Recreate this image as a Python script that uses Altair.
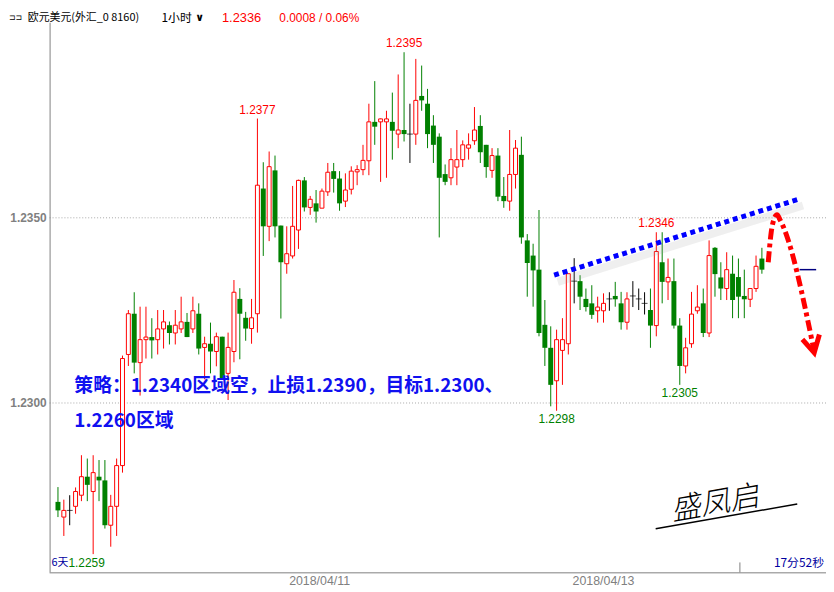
import altair as alt
import pandas as pd

# ---------------- data (EUR/USD 1h candles) ----------------
opens = [1.22733, 1.22692, 1.22710, 1.22721, 1.22751, 1.22801, 1.22761, 1.22801, 1.22791, 1.22670,
         1.22721, 1.22831, 1.23131, 1.23241, 1.23109, 1.23171, 1.23178, 1.23171, 1.23200, 1.23210,
         1.23189, 1.23200, 1.23219, 1.23200, 1.23241, 1.23150, 1.23160, 1.23139, 1.23179, 1.23080,
         1.23139, 1.23281, 1.23230, 1.23201, 1.23241, 1.23579, 1.23477, 1.23628, 1.23479, 1.23376,
         1.23397, 1.23467, 1.23601, 1.23528, 1.23539, 1.23526, 1.23570, 1.23626, 1.23606, 1.23545,
         1.23577, 1.23624, 1.23630, 1.23654, 1.23759, 1.23759, 1.23759, 1.23759, 1.23726, 1.23737,
         1.23726, 1.23726, 1.23829, 1.23808, 1.23749, 1.23719, 1.23618, 1.23608, 1.23637, 1.23657,
         1.23688, 1.23708, 1.23748, 1.23697, 1.23628, 1.23668, 1.23559, 1.23545, 1.23617, 1.23670,
         1.23439, 1.23398, 1.23360, 1.23211, 1.23149, 1.23060, 1.23142, 1.23160, 1.23329, 1.23329,
         1.23281, 1.23269, 1.23249, 1.23249, 1.23281, 1.23289, 1.23269, 1.23218, 1.23289, 1.23281,
         1.23269, 1.23251, 1.23209, 1.23380, 1.23327, 1.23329, 1.23209, 1.23100, 1.23160, 1.23249,
         1.23269, 1.23189, 1.23419, 1.23339, 1.23309, 1.23349, 1.23340, 1.23289, 1.23280, 1.23309,
         1.23390]
highs = [1.22773, 1.22739, 1.22751, 1.22772, 1.22859, 1.22850, 1.22859, 1.22846, 1.22846, 1.22752,
         1.22850, 1.23128, 1.23251, 1.23299, 1.23260, 1.23260, 1.23229, 1.23251, 1.23251, 1.23220,
         1.23251, 1.23287, 1.23243, 1.23287, 1.23269, 1.23179, 1.23217, 1.23190, 1.23179, 1.23190,
         1.23332, 1.23310, 1.23246, 1.23281, 1.23768, 1.23650, 1.23679, 1.23668, 1.23479, 1.23477,
         1.23586, 1.23603, 1.23610, 1.23559, 1.23575, 1.23579, 1.23648, 1.23648, 1.23626, 1.23620,
         1.23639, 1.23642, 1.23697, 1.23808, 1.23869, 1.23768, 1.23789, 1.23838, 1.23887, 1.23947,
         1.23808, 1.23929, 1.23911, 1.23848, 1.23777, 1.23728, 1.23644, 1.23688, 1.23737, 1.23709,
         1.23728, 1.23799, 1.23777, 1.23697, 1.23688, 1.23688, 1.23610, 1.23737, 1.23710, 1.23719,
         1.23456, 1.23430, 1.23521, 1.23278, 1.23207, 1.23198, 1.23229, 1.23349, 1.23391, 1.23345,
         1.23309, 1.23318, 1.23287, 1.23296, 1.23299, 1.23327, 1.23300, 1.23299, 1.23329, 1.23309,
         1.23299, 1.23309, 1.23461, 1.23461, 1.23390, 1.23390, 1.23229, 1.23176, 1.23300, 1.23318,
         1.23309, 1.23439, 1.23421, 1.23380, 1.23407, 1.23398, 1.23390, 1.23360, 1.23309, 1.23398,
         1.23419]
lows = [1.22692, 1.22641, 1.22670, 1.22701, 1.22735, 1.22735, 1.22592, 1.22735, 1.22661, 1.22612,
        1.22641, 1.22812, 1.23100, 1.23080, 1.23020, 1.23120, 1.23120, 1.23131, 1.23147, 1.23158,
        1.23158, 1.23189, 1.23178, 1.23189, 1.23131, 1.23064, 1.23080, 1.23099, 1.23064, 1.23008,
        1.23110, 1.23118, 1.23168, 1.23160, 1.23190, 1.23397, 1.23437, 1.23447, 1.23228, 1.23349,
        1.23390, 1.23416, 1.23517, 1.23508, 1.23487, 1.23526, 1.23559, 1.23568, 1.23519, 1.23529,
        1.23563, 1.23588, 1.23615, 1.23615, 1.23697, 1.23597, 1.23608, 1.23657, 1.23688, 1.23706,
        1.23648, 1.23697, 1.23789, 1.23688, 1.23648, 1.23447, 1.23588, 1.23588, 1.23588, 1.23637,
        1.23657, 1.23697, 1.23648, 1.23608, 1.23608, 1.23545, 1.23527, 1.23519, 1.23579, 1.23430,
        1.23287, 1.23260, 1.23180, 1.23100, 1.22991, 1.22979, 1.23049, 1.23131, 1.23269, 1.23251,
        1.23247, 1.23227, 1.23217, 1.23217, 1.23249, 1.23260, 1.23198, 1.23198, 1.23259, 1.23251,
        1.23239, 1.23149, 1.23180, 1.23269, 1.23278, 1.23201, 1.23049, 1.23080, 1.23149, 1.23241,
        1.23178, 1.23178, 1.23287, 1.23278, 1.23278, 1.23229, 1.23229, 1.23229, 1.23259, 1.23300,
        1.23349]
closes = [1.22710, 1.22710, 1.22710, 1.22761, 1.22801, 1.22779, 1.22812, 1.22791, 1.22670, 1.22721,
          1.22831, 1.23120, 1.23241, 1.23109, 1.23171, 1.23178, 1.23169, 1.23200, 1.23219, 1.23189,
          1.23210, 1.23219, 1.23178, 1.23249, 1.23147, 1.23160, 1.23139, 1.23179, 1.23067, 1.23150,
          1.23299, 1.23241, 1.23201, 1.23230, 1.23588, 1.23477, 1.23638, 1.23477, 1.23380, 1.23403,
          1.23477, 1.23601, 1.23528, 1.23550, 1.23517, 1.23572, 1.23623, 1.23605, 1.23539, 1.23575,
          1.23626, 1.23630, 1.23655, 1.23759, 1.23746, 1.23767, 1.23767, 1.23735, 1.23737, 1.23726,
          1.23726, 1.23817, 1.23817, 1.23726, 1.23697, 1.23608, 1.23597, 1.23657, 1.23657, 1.23697,
          1.23697, 1.23737, 1.23677, 1.23637, 1.23668, 1.23557, 1.23545, 1.23617, 1.23688, 1.23447,
          1.23378, 1.23358, 1.23189, 1.23149, 1.23049, 1.23171, 1.23171, 1.23349, 1.23329, 1.23287,
          1.23259, 1.23238, 1.23259, 1.23269, 1.23281, 1.23280, 1.23218, 1.23281, 1.23289, 1.23281,
          1.23269, 1.23209, 1.23409, 1.23327, 1.23339, 1.23209, 1.23100, 1.23149, 1.23240, 1.23259,
          1.23189, 1.23398, 1.23348, 1.23309, 1.23360, 1.23278, 1.23287, 1.23280, 1.23309, 1.23369,
          1.23360]

grid_values = [1.2300, 1.2350]

high_label_idx = [34, 59, 102]
high_label_text = ["1.2377", "1.2395", "1.2346"]
low_label_idx = [85, 106]
low_label_text = ["1.2298", "1.2305"]

date_idx = [44.6, 93.0]
date_text = ["2018/04/11", "2018/04/13"]

trend_idx = [84.58, 126.42]
trend_price = [1.23345, 1.23551]
shadow_idx = [85.2, 127.0]
shadow_price = [1.23327, 1.23533]

arrow_idx = [121.08, 121.58, 122.08, 122.58, 123.08, 128.92]
arrow_price = [1.23380, 1.23460, 1.23497, 1.23508, 1.23495, 1.23139]
head_idx = [126.9, 128.92, 129.8]
head_price = [1.23172, 1.23136, 1.23185]

last_price = 1.2336
last_idx = [126.42, 129.25]
marker_idx = 116.25

# ---------------- frame ----------------
W, H = 784, 555
xs = alt.Scale(domain=[-0.5833, 130.0833], nice=False, zero=False)
ys = alt.Scale(domain=[1.225428, 1.240267], nice=False, zero=False)

df = pd.DataFrame({"i": list(range(len(opens))), "open": opens, "high": highs,
                   "low": lows, "close": closes})
df["kind"] = ["up" if c > o else ("down" if c < o else "doji") for o, c in zip(opens, closes)]
df["top"] = df[["open", "close"]].max(axis=1)
df["bot"] = df[["open", "close"]].min(axis=1)

kind_scale = alt.Scale(domain=["up", "down", "doji"], range=["#ff0000", "#008000", "#000000"])
X = alt.X("i:Q", scale=xs, axis=None)
dummy = pd.DataFrame({"a": [0]})

GRAY = "#808080"

grid = alt.Chart(pd.DataFrame({"v": grid_values})).mark_rule(
    strokeDash=[1, 2], color="#a8a8a8", strokeWidth=1).encode(
    y=alt.Y("v:Q", scale=ys, axis=None), x=alt.value(0), x2=alt.value(W))
ylabels = alt.Chart(pd.DataFrame({"v": grid_values})).mark_text(
    align="right", baseline="middle", dx=-3, font="Liberation Sans", fontSize=12,
    fontWeight="bold", color=GRAY).encode(
    y=alt.Y("v:Q", scale=ys, axis=None), x=alt.value(0), text=alt.Text("v:Q", format=".4f"))
yaxis = alt.Chart(dummy).mark_rule(color=GRAY, strokeWidth=1).encode(
    x=alt.value(0.5), y=alt.value(0), y2=alt.value(H))
xaxis = alt.Chart(dummy).mark_rule(color=GRAY, strokeWidth=1).encode(
    x=alt.value(0), x2=alt.value(W), y=alt.value(H + 0.5))
marker = alt.Chart(pd.DataFrame({"i": [marker_idx]})).mark_rule(color=GRAY).encode(
    x=X, y=alt.value(H - 10), y2=alt.value(H))

wicks = alt.Chart(df).mark_rule(strokeWidth=1).encode(
    x=X, y=alt.Y("low:Q", scale=ys, axis=None), y2="high:Q",
    color=alt.Color("kind:N", scale=kind_scale, legend=None))
down_bodies = alt.Chart(df).transform_filter("datum.kind == 'down'").mark_bar(
    size=5, fill="#008000", strokeWidth=0).encode(
    x=X, y=alt.Y("top:Q", scale=ys, axis=None), y2="bot:Q")
up_bodies = alt.Chart(df).transform_filter("datum.kind == 'up'").mark_bar(
    size=4, fill="white", stroke="#ff0000", strokeWidth=1).encode(
    x=X, y=alt.Y("top:Q", scale=ys, axis=None), y2="bot:Q")
doji = alt.Chart(df).transform_filter("datum.kind == 'doji'").mark_tick(
    orient="horizontal", size=6, thickness=1, color="black").encode(
    x=X, y=alt.Y("open:Q", scale=ys, axis=None))

hi_df = pd.DataFrame({"i": high_label_idx, "p": [highs[k] for k in high_label_idx],
                      "t": high_label_text})
lo_df = pd.DataFrame({"i": low_label_idx, "p": [lows[k] for k in low_label_idx],
                      "t": low_label_text})
hi_labels = alt.Chart(hi_df).mark_text(baseline="bottom", dy=-2, font="Liberation Sans",
                                       fontSize=12, color="#ff0000").encode(
    x=X, y=alt.Y("p:Q", scale=ys, axis=None), text="t:N")
lo_labels = alt.Chart(lo_df).mark_text(baseline="top", dy=3, font="Liberation Sans",
                                       fontSize=12, color="#008000").encode(
    x=X, y=alt.Y("p:Q", scale=ys, axis=None), text="t:N")

dates = alt.Chart(pd.DataFrame({"i": date_idx, "t": date_text})).mark_text(
    baseline="middle", font="Liberation Sans", fontSize=12.5, color=GRAY).encode(
    x=X, y=alt.value(H + 9), text="t:N")

shadow = alt.Chart(pd.DataFrame({"i": shadow_idx, "p": shadow_price})).mark_line(
    color="#9a9a9a", strokeWidth=8, opacity=0.16, strokeCap="butt").encode(
    x=X, y=alt.Y("p:Q", scale=ys, axis=None))
trend = alt.Chart(pd.DataFrame({"i": trend_idx, "p": trend_price})).mark_line(
    color="#0000ff", strokeWidth=5, strokeDash=[5, 4], strokeCap="butt").encode(
    x=X, y=alt.Y("p:Q", scale=ys, axis=None))

arrow = alt.Chart(pd.DataFrame({"i": arrow_idx, "p": arrow_price,
                                "o": list(range(len(arrow_idx)))})).mark_line(
    color="#ff0000", strokeWidth=5, strokeDash=[11, 4, 4, 4], strokeCap="butt",
    interpolate="monotone").encode(
    x=X, y=alt.Y("p:Q", scale=ys, axis=None), order="o:Q")
head = alt.Chart(pd.DataFrame({"i": head_idx, "p": head_price,
                               "o": [0, 1, 2]})).mark_line(
    color="#ff0000", strokeWidth=5, strokeJoin="miter").encode(
    x=X, y=alt.Y("p:Q", scale=ys, axis=None), order="o:Q")

last_line = alt.Chart(pd.DataFrame({"i": [last_idx[0]], "i2": [last_idx[1]],
                                    "p": [last_price]})).mark_rule(
    color="#000080", strokeWidth=1.5).encode(
    x=X, x2="i2:Q", y=alt.Y("p:Q", scale=ys, axis=None))


def txt(s, x, y, **kw):
    return alt.Chart(dummy).mark_text(text=s, **kw).encode(x=alt.value(x), y=alt.value(y))


CJK = "Noto Sans CJK SC"
BLUE = "#1010f0"
strategy1 = txt("策略：1.2340区域空，止损1.2390，目标1.2300、", 25, 367, align="left",
                baseline="middle", font=CJK, fontSize=19, fontWeight="bold", color=BLUE)
strategy2 = txt("1.2260区域", 25, 402, align="left", baseline="middle", font=CJK,
                fontSize=19, fontWeight="bold", color=BLUE)

HY = -5
hdr_icon = txt("⊐⊐", -41, HY, align="left", baseline="middle", font="DejaVu Sans",
               fontSize=8, color="#000000")
hdr_name = txt("欧元美元(外汇_0 8160)", -22, HY, align="left", baseline="middle",
               font=CJK, fontSize=11, color="#000000")
hdr_tf = txt("1小时", 113, HY, align="left", baseline="middle", font=CJK,
             fontSize=12, color="#000000")
hdr_v = txt("∨", 147, HY, align="left", baseline="middle", font="DejaVu Sans",
            fontSize=11, fontWeight="bold", color="#000000")
hdr_px = txt("1.2336", 174, HY, align="left", baseline="middle", font="Liberation Sans",
             fontSize=13, color="#ff0000")
hdr_chg = txt("0.0008 / 0.06%", 232, HY, align="left", baseline="middle",
              font="Liberation Sans", fontSize=12, color="#ff0000")

bl_days = txt("6天", 2, 546, align="left", baseline="middle", font=CJK, fontSize=11,
              color="#0000a0")
bl_low = txt("1.2259", 19, 546, align="left", baseline="middle", font="Liberation Sans",
             fontSize=12, color="#008000")
br_time = txt("17分52秒", 782, 546, align="right", baseline="middle", font=CJK,
              fontSize=12, color="#0000a0")

sign = txt("盛凤启", 672, 486, align="center", baseline="middle", font=CJK, fontSize=30,
           fontStyle="italic", fontWeight=300, color="#000000", angle=350)
sign_line = alt.Chart(dummy).mark_rule(color="#000000", strokeWidth=1.5).encode(
    x=alt.value(612), y=alt.value(511), x2=alt.value(755), y2=alt.value(486))

chart = alt.layer(
    grid, yaxis, xaxis, marker, wicks, down_bodies, up_bodies, doji,
    hi_labels, lo_labels, dates, shadow, trend, arrow, head, last_line,
    strategy1, strategy2, hdr_icon, hdr_name, hdr_tf, hdr_v, hdr_px, hdr_chg,
    bl_days, bl_low, br_time, sign, sign_line, ylabels
).properties(
    width=W, height=H,
    padding={"left": 42, "top": 12, "right": 0, "bottom": 17},
    autosize=alt.AutoSizeParams(type="none"),
    background="white"
).configure_view(strokeWidth=0)

chart.save("out.html", embed_options={"renderer": "svg", "actions": False})
